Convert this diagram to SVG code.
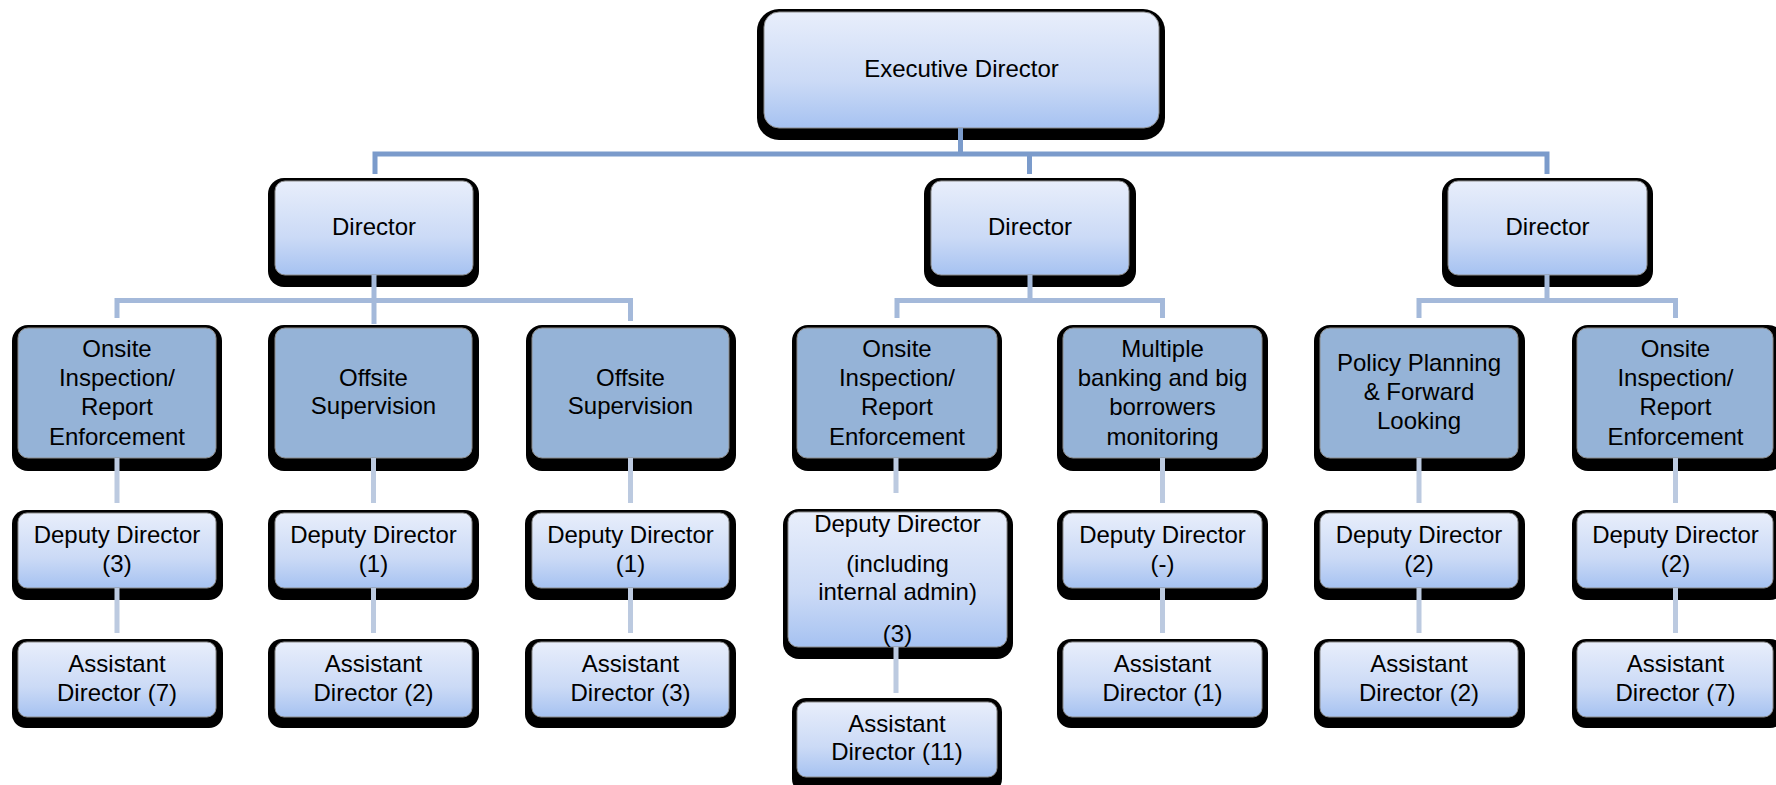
<svg xmlns="http://www.w3.org/2000/svg" width="1776" height="785" viewBox="0 0 1776 785">
<defs>
<linearGradient id="g" x1="0" y1="0" x2="0" y2="1">
<stop offset="0" stop-color="#e8eefb"/>
<stop offset="0.6" stop-color="#cbdaf6"/>
<stop offset="1" stop-color="#a6c2f1"/>
</linearGradient>
<style>
.sh{fill:#000}
.lt{fill:url(#g);stroke:#8c8c8c;stroke-width:1}
.dk{fill:#95b3d7;stroke:#8c8c8c;stroke-width:1}
text{font-family:"Liberation Sans",Arial,sans-serif;font-size:24px;fill:#000;text-anchor:middle}
.c1{fill:none;stroke:#7b9bcb;stroke-width:5}
.c2{fill:none;stroke:#a4b9da;stroke-width:5}
.c3{fill:none;stroke:#bccae0;stroke-width:5}
</style>
</defs>
<rect width="1776" height="785" fill="#fff"/>

<g id="exec">
<rect class="sh" x="757" y="9" width="408" height="131" rx="22"/>
<rect class="lt" x="764" y="12" width="395" height="116" rx="15"/>
<text x="961.5" y="77">Executive Director</text>
</g>

<g id="dir1">
<rect class="sh" x="268" y="178" width="211" height="109" rx="16"/>
<rect class="lt" x="275" y="181" width="198" height="94" rx="10"/>
<text x="374" y="235">Director</text>
</g>
<g id="dir2">
<rect class="sh" x="924" y="178" width="212" height="109" rx="16"/>
<rect class="lt" x="931" y="181" width="198" height="94" rx="10"/>
<text x="1030" y="235">Director</text>
</g>
<g id="dir3">
<rect class="sh" x="1442" y="178" width="211" height="109" rx="16"/>
<rect class="lt" x="1448" y="181" width="199" height="94" rx="10"/>
<text x="1547.5" y="235">Director</text>
</g>

<g id="u1">
<rect class="sh" x="12" y="325" width="210" height="146" rx="16"/>
<rect class="dk" x="18" y="328" width="198" height="130" rx="10"/>
<text x="117" y="357">Onsite</text>
<text x="117" y="386">Inspection/</text>
<text x="117" y="415">Report</text>
<text x="117" y="445">Enforcement</text>
</g>
<g id="u2">
<rect class="sh" x="268" y="325" width="211" height="146" rx="16"/>
<rect class="dk" x="275" y="328" width="197" height="130" rx="10"/>
<text x="373.5" y="386">Offsite</text>
<text x="373.5" y="414">Supervision</text>
</g>
<g id="u3">
<rect class="sh" x="526" y="325" width="210" height="146" rx="16"/>
<rect class="dk" x="532" y="328" width="197" height="130" rx="10"/>
<text x="630.5" y="386">Offsite</text>
<text x="630.5" y="414">Supervision</text>
</g>
<g id="u4">
<rect class="sh" x="792" y="325" width="210" height="146" rx="16"/>
<rect class="dk" x="797" y="328" width="200" height="130" rx="10"/>
<text x="897" y="357">Onsite</text>
<text x="897" y="386">Inspection/</text>
<text x="897" y="415">Report</text>
<text x="897" y="445">Enforcement</text>
</g>
<g id="u5">
<rect class="sh" x="1057" y="325" width="211" height="146" rx="16"/>
<rect class="dk" x="1063" y="328" width="199" height="130" rx="10"/>
<text x="1162.5" y="357">Multiple</text>
<text x="1162.5" y="386">banking and big</text>
<text x="1162.5" y="415">borrowers</text>
<text x="1162.5" y="445">monitoring</text>
</g>
<g id="u6">
<rect class="sh" x="1314" y="325" width="211" height="146" rx="16"/>
<rect class="dk" x="1320" y="328" width="198" height="130" rx="10"/>
<text x="1419" y="371">Policy Planning</text>
<text x="1419" y="400">&amp; Forward</text>
<text x="1419" y="429">Looking</text>
</g>
<g id="u7">
<rect class="sh" x="1572" y="325" width="212" height="146" rx="16"/>
<rect class="dk" x="1577" y="328" width="196" height="130" rx="10"/>
<text x="1675.5" y="357">Onsite</text>
<text x="1675.5" y="386">Inspection/</text>
<text x="1675.5" y="415">Report</text>
<text x="1675.5" y="445">Enforcement</text>
</g>

<g id="dd1">
<rect class="sh" x="12" y="510" width="211" height="90" rx="14"/>
<rect class="lt" x="18" y="513" width="198" height="75" rx="9"/>
<text x="117" y="543">Deputy Director</text>
<text x="117" y="572">(3)</text>
</g>
<g id="dd2">
<rect class="sh" x="268" y="510" width="211" height="90" rx="14"/>
<rect class="lt" x="275" y="513" width="197" height="75" rx="9"/>
<text x="373.5" y="543">Deputy Director</text>
<text x="373.5" y="572">(1)</text>
</g>
<g id="dd3">
<rect class="sh" x="525" y="510" width="211" height="90" rx="14"/>
<rect class="lt" x="532" y="513" width="197" height="75" rx="9"/>
<text x="630.5" y="543">Deputy Director</text>
<text x="630.5" y="572">(1)</text>
</g>
<g id="dd4">
<rect class="sh" x="783" y="509" width="230" height="150" rx="16"/>
<rect class="lt" x="788" y="512" width="219" height="135" rx="10"/>
<text x="897.5" y="532">Deputy Director</text>
<text x="897.5" y="572">(including</text>
<text x="897.5" y="600">internal admin)</text>
<text x="897.5" y="642">(3)</text>
</g>
<g id="dd5">
<rect class="sh" x="1057" y="510" width="211" height="90" rx="14"/>
<rect class="lt" x="1063" y="513" width="199" height="75" rx="9"/>
<text x="1162.5" y="543">Deputy Director</text>
<text x="1162.5" y="572">(-)</text>
</g>
<g id="dd6">
<rect class="sh" x="1314" y="510" width="211" height="90" rx="14"/>
<rect class="lt" x="1320" y="513" width="198" height="75" rx="9"/>
<text x="1419" y="543">Deputy Director</text>
<text x="1419" y="572">(2)</text>
</g>
<g id="dd7">
<rect class="sh" x="1572" y="510" width="212" height="90" rx="14"/>
<rect class="lt" x="1577" y="513" width="196" height="75" rx="9"/>
<text x="1675.5" y="543">Deputy Director</text>
<text x="1675.5" y="572">(2)</text>
</g>

<g id="ad1">
<rect class="sh" x="12" y="639" width="211" height="89" rx="14"/>
<rect class="lt" x="18" y="642" width="198" height="75" rx="9"/>
<text x="117" y="672">Assistant</text>
<text x="117" y="701">Director (7)</text>
</g>
<g id="ad2">
<rect class="sh" x="268" y="639" width="211" height="89" rx="14"/>
<rect class="lt" x="275" y="642" width="197" height="75" rx="9"/>
<text x="373.5" y="672">Assistant</text>
<text x="373.5" y="701">Director (2)</text>
</g>
<g id="ad3">
<rect class="sh" x="525" y="639" width="211" height="89" rx="14"/>
<rect class="lt" x="532" y="642" width="197" height="75" rx="9"/>
<text x="630.5" y="672">Assistant</text>
<text x="630.5" y="701">Director (3)</text>
</g>
<g id="ad4">
<rect class="sh" x="792" y="698" width="210" height="95" rx="14"/>
<rect class="lt" x="797" y="702" width="200" height="75" rx="9"/>
<text x="897" y="732">Assistant</text>
<text x="897" y="760">Director (11)</text>
</g>
<g id="ad5">
<rect class="sh" x="1057" y="639" width="211" height="89" rx="14"/>
<rect class="lt" x="1063" y="642" width="199" height="75" rx="9"/>
<text x="1162.5" y="672">Assistant</text>
<text x="1162.5" y="701">Director (1)</text>
</g>
<g id="ad6">
<rect class="sh" x="1314" y="639" width="211" height="89" rx="14"/>
<rect class="lt" x="1320" y="642" width="198" height="75" rx="9"/>
<text x="1419" y="672">Assistant</text>
<text x="1419" y="701">Director (2)</text>
</g>
<g id="ad7">
<rect class="sh" x="1572" y="639" width="212" height="89" rx="14"/>
<rect class="lt" x="1577" y="642" width="196" height="75" rx="9"/>
<text x="1675.5" y="672">Assistant</text>
<text x="1675.5" y="701">Director (7)</text>
</g>

<g id="connectors">
<path class="c1" d="M960.5,128 V154 M375,174 V154 H1547 V174 M1029.5,154 V174"/>
<path class="c2" d="M374,275 V324 M117,318 V300.5 H630.5 V321"/>
<path class="c2" d="M1030,275 V300.5 M897,318 V300.5 H1162.5 V318"/>
<path class="c2" d="M1547,275 V300.5 M1419,318 V300.5 H1675.5 V318"/>
<path class="c3" d="M117,458 V503 M117,588 V633 M373.5,458 V503 M373.5,588 V633 M630.5,458 V503 M630.5,588 V633 M896,458 V493 M896,647 V693 M1162.5,458 V503 M1162.5,588 V633 M1419,458 V503 M1419,588 V633 M1675.5,458 V503 M1675.5,588 V633"/>
</g>
</svg>
